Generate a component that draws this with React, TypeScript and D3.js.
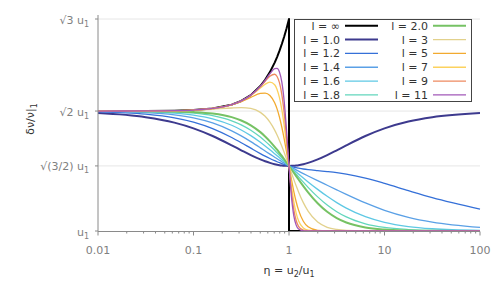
import React from 'react'
import * as d3 from 'd3'

// eta = u2/u1 sample points (log spaced, denser near 1)
const eta = [0.01, 0.03162, 0.0631, 0.1, 0.1585, 0.2512, 0.3162, 0.3981, 0.5012, 0.5623, 0.631, 0.7079, 0.7499,
  0.7943, 0.8414, 0.8913, 0.9441, 1, 1.0593, 1.122, 1.1885, 1.2589, 1.4125, 1.5849, 1.9953, 2.5119, 3.1623,
  3.9811, 6.3096, 10, 17.783, 31.623, 100]

// l = infinity has a jump at eta = 1
const etaInf = [0.01, 0.03162, 0.0631, 0.1, 0.1585, 0.2512, 0.3162, 0.3981, 0.5012, 0.5623, 0.631, 0.7079, 0.7499,
  0.7943, 0.8414, 0.8913, 0.9441, 1, 1, 100]
const valInf = [1.4142, 1.4146, 1.4156, 1.4177, 1.4231, 1.4364, 1.4491, 1.4692, 1.5004, 1.5219, 1.5486, 1.5815, 1.6007,
  1.622, 1.6456, 1.6716, 1.7004, 1.7321, 1, 1]

// δv/v in units of u1
const val10 = [1.4073, 1.3931, 1.3742, 1.3545, 1.3281, 1.2958, 1.2787, 1.262, 1.2471, 1.2407, 1.2352, 1.2307, 1.2289,
  1.2274, 1.2263, 1.2254, 1.2249, 1.2247, 1.2249, 1.2254, 1.2263, 1.2274, 1.2307, 1.2352, 1.2471, 1.262, 1.2787,
  1.2958, 1.3281, 1.3545, 1.3781, 1.3931, 1.4073]
const val12 = [1.4115, 1.4036, 1.391, 1.3761, 1.3537, 1.3229, 1.3049, 1.286, 1.2674, 1.2586, 1.2503, 1.2427, 1.2392,
  1.2359, 1.2328, 1.2299, 1.2272, 1.2247, 1.2225, 1.2205, 1.2186, 1.217, 1.2141, 1.2118, 1.2083, 1.2051, 1.2014,
  1.1965, 1.1826, 1.1644, 1.1393, 1.1152, 1.0758]
const val14 = [1.4131, 1.409, 1.4012, 1.3907, 1.3732, 1.3459, 1.3283, 1.3085, 1.2872, 1.2763, 1.2654, 1.2548, 1.2495,
  1.2444, 1.2393, 1.2344, 1.2295, 1.2247, 1.2201, 1.2156, 1.2111, 1.2067, 1.1982, 1.19, 1.1739, 1.158, 1.1421,
  1.1264, 1.0968, 1.0715, 1.0473, 1.0306, 1.0124]
const val16 = [1.4138, 1.4118, 1.4072, 1.4004, 1.3876, 1.3651, 1.3489, 1.3292, 1.3062, 1.2936, 1.2804, 1.2668, 1.2599,
  1.2529, 1.2459, 1.2389, 1.2318, 1.2247, 1.2177, 1.2107, 1.2037, 1.1968, 1.1831, 1.1696, 1.1438, 1.1198, 1.0981,
  1.0791, 1.0495, 1.0299, 1.0154, 1.0078, 1.002]
const val18 = [1.4141, 1.4132, 1.4108, 1.4067, 1.3981, 1.3806, 1.3667, 1.3481, 1.3243, 1.3104, 1.2952, 1.2788, 1.2703,
  1.2615, 1.2525, 1.2434, 1.2341, 1.2247, 1.2153, 1.2059, 1.1965, 1.1871, 1.1686, 1.1508, 1.1179, 1.0896, 1.0666,
  1.0485, 1.0247, 1.0122, 1.005, 1.002, 1.0003]
const val20 = [1.4142, 1.4139, 1.4128, 1.4107, 1.4055, 1.3931, 1.3817, 1.365, 1.3414, 1.3266, 1.3097, 1.2908, 1.2807,
  1.2701, 1.2592, 1.2479, 1.2364, 1.2247, 1.213, 1.2011, 1.1893, 1.1777, 1.1549, 1.1335, 1.0958, 1.0662, 1.0445,
  1.0293, 1.0122, 1.0049, 1.0016, 1.0005, 1.0001]
const val3 = [1.4143, 1.4146, 1.4154, 1.417, 1.4202, 1.4248, 1.426, 1.4231, 1.4096, 1.396, 1.3759, 1.3483, 1.3315,
  1.3129, 1.2926, 1.2709, 1.2481, 1.2247, 1.2013, 1.1782, 1.1559, 1.135, 1.0979, 1.0684, 1.0307, 1.0128, 1.0052,
  1.0021, 1.0003, 1.0001, 1, 1, 1]
const val5 = [1.4143, 1.4146, 1.4156, 1.4177, 1.423, 1.4356, 1.4468, 1.4614, 1.475, 1.4764, 1.4682, 1.443, 1.4216,
  1.3934, 1.3583, 1.3172, 1.2719, 1.2247, 1.1789, 1.137, 1.101, 1.072, 1.0336, 1.0144, 1.0023, 1.0004, 1.0001,
  1, 1, 1, 1, 1, 1]
const val7 = [1.4143, 1.4146, 1.4156, 1.4177, 1.4231, 1.4363, 1.4489, 1.4679, 1.4938, 1.5069, 1.5143, 1.5052, 1.4887,
  1.4607, 1.4188, 1.3628, 1.296, 1.2247, 1.1578, 1.1024, 1.0619, 1.0351, 1.01, 1.0026, 1.0002, 1, 1,
  1, 1, 1, 1, 1, 1]
const val9 = [1.4143, 1.4146, 1.4156, 1.4177, 1.4231, 1.4364, 1.4491, 1.469, 1.4987, 1.5171, 1.5345, 1.5413, 1.5336,
  1.5122, 1.471, 1.4063, 1.3202, 1.2247, 1.1383, 1.0747, 1.0361, 1.016, 1.0027, 1.0004, 1, 1, 1,
  1, 1, 1, 1, 1, 1]
const val11 = [1.4143, 1.4146, 1.4156, 1.4177, 1.4231, 1.4364, 1.4491, 1.4692, 1.5, 1.5204, 1.5429, 1.5608, 1.5616,
  1.5491, 1.514, 1.4464, 1.3442, 1.2247, 1.1204, 1.0532, 1.0202, 1.007, 1.0007, 1, 1, 1, 1,
  1, 1, 1, 1, 1, 1]

const lLabels = ['∞', '1.0', '1.2', '1.4', '1.6', '1.8', '2.0', '3', '5', '7', '9', '11']
const seriesValues = [valInf, val10, val12, val14, val16, val18, val20, val3, val5, val7, val9, val11]
const colors = ['#000000', '#3d3a8e', '#3570d8', '#5aa0e6', '#5ec8e4', '#62d6bc', '#76c264', '#e2d18c',
  '#f2aa30', '#fcd25e', '#ee8a60', '#a258b8']
const widths = [2, 2, 1.3, 1.3, 1.3, 1.3, 2, 1.3, 1.3, 1.3, 1.3, 1.3]

const xTicks = [0.01, 0.1, 1, 10, 100]
const xTickLabels = ['0.01', '0.1', '1', '10', '100']
const yTicks = [1, Math.sqrt(1.5), Math.sqrt(2), Math.sqrt(3)]
const yTickLabels = ['u', '√(3/2) u', '√2 u', '√3 u']

const font = 'DejaVu Sans, sans-serif'

export default function App() {
  const x = d3.scaleLog().domain([0.01, 100]).range([98, 480])
  const y = d3.scaleLinear().domain([1, 1.7459]).range([231, 15])

  const minorTicks: number[] = []
  ;[0.01, 0.1, 1, 10].forEach(d => {
    for (let m = 2; m <= 9; m++) minorTicks.push(d * m)
  })

  const line = (xs: number[]) =>
    d3
      .line<number>()
      .x((_, i) => x(xs[i]))
      .y(d => y(d))

  const paths = seriesValues.map((vals, k) =>
    k === 0 ? line(etaInf)(vals) : line(eta).curve(d3.curveMonotoneX)(vals)
  )

  const legendRows = 6
  return (
    <svg width={498} height={293} style={{position: 'absolute', left: 0, top: 0}} fontFamily={font}>
      <rect width={498} height={293} fill="#fff" />
      {yTicks.slice(1).map((t, i) => (
        <line key={i} x1={98} x2={480} y1={y(t)} y2={y(t)} stroke="#e6e6e6" strokeWidth={1} />
      ))}
      <g fill="none" strokeLinejoin="round">
        {paths.map((p, k) => (
          <path key={k} d={p || ''} stroke={colors[k]} strokeWidth={widths[k]} />
        ))}
      </g>
      <line x1={98} x2={98} y1={15} y2={231.5} stroke="#8a8a8a" />
      <line x1={98} x2={480} y1={231.5} y2={231.5} stroke="#8a8a8a" />
      {xTicks.map((t, i) => (
        <g key={i}>
          <line x1={x(t)} x2={x(t)} y1={231.5} y2={235.5} stroke="#8a8a8a" />
          <text x={x(t)} y={254} textAnchor="middle" fontSize={11} fill="#808080">
            {xTickLabels[i]}
          </text>
        </g>
      ))}
      {minorTicks.map((t, i) => (
        <line key={i} x1={x(t)} x2={x(t)} y1={231.5} y2={233.5} stroke="#8a8a8a" />
      ))}
      {yTicks.map((t, i) => (
        <g key={i}>
          <line x1={95} x2={98} y1={y(t)} y2={y(t)} stroke="#8a8a8a" />
          <text x={89} y={y(t) + 4.5} textAnchor="end" fontSize={11} fill="#808080">
            {yTickLabels[i]}
            <tspan fontSize={8} dy={3}>1</tspan>
          </text>
        </g>
      ))}
      <text x={289} y={274} textAnchor="middle" fontSize={11} fill="#333">
        η = u<tspan fontSize={8} dy={3}>2</tspan>
        <tspan dy={-3}>/u</tspan>
        <tspan fontSize={8} dy={3}>1</tspan>
      </text>
      <text transform="translate(34,119) rotate(-90)" textAnchor="middle" fontSize={11} fill="#333">
        δν/ν|<tspan fontSize={8} dy={3}>1</tspan>
      </text>
      <g>
        <rect x={294.5} y={19.5} width={177} height={82} fill="#fff" stroke="#444" strokeWidth={1} />
        {lLabels.map((lab, k) => {
          const col = Math.floor(k / legendRows)
          const row = k % legendRows
          const ty = 25.7 + row * 13.85
          const tx = col === 0 ? 340 : 428
          return (
            <g key={k}>
              <text x={tx} y={ty + 4} textAnchor="end" fontSize={11} fill="#333">
                {'l = ' + lab}
              </text>
              <line x1={tx + 5} x2={tx + 38} y1={ty} y2={ty} stroke={colors[k]} strokeWidth={widths[k]} />
            </g>
          )
        })}
      </g>
    </svg>
  )
}
